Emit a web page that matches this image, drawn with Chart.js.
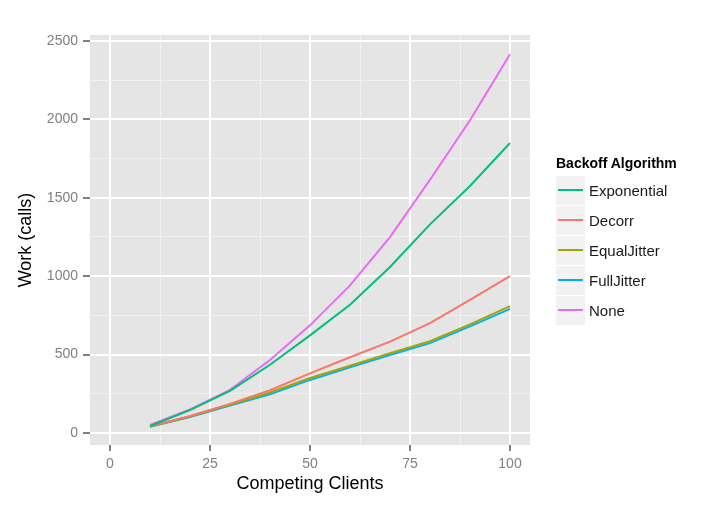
<!DOCTYPE html>
<html>
<head>
<meta charset="utf-8">
<script src="https://cdn.jsdelivr.net/npm/chart.js@4.4.1/dist/chart.umd.min.js"></script>
<style>
  html, body { margin: 0; padding: 0; background: #fff; }
  #wrap { position: relative; width: 721px; height: 510px; font-family: "Liberation Sans", Arial, sans-serif; }
  #c { position: absolute; left: 0; top: 0; }
  #legend { position: absolute; left: 556px; top: 152px; }
  #legend .title { font-weight: bold; font-size: 14px; color: #000; height: 23px; line-height: 22px; white-space: nowrap; }
  #legend .row { display: flex; align-items: center; height: 30px; }
  #legend .key { width: 29px; height: 29px; background: #f2f2f2; position: relative; margin-right: 4px; }
  #legend .key span { position: absolute; left: 2px; right: 2px; top: 13px; height: 2px; }
  #legend .lab { font-size: 15px; color: #1a1a1a; white-space: nowrap; }
</style>
</head>
<body>
<div id="wrap">
  <canvas id="c" width="721" height="510"></canvas>
  <div id="legend"></div>
</div>
<script>
const clients = [10, 20, 30, 40, 50, 60, 70, 80, 90, 100];
const seriesNames = ["Exponential", "Decorr", "EqualJitter", "FullJitter", "None"];
const exponential = [44, 145, 268, 435, 622, 818, 1058, 1330, 1575, 1849];
const decorr      = [42, 108, 185, 272, 380, 483, 582, 700, 848, 1000];
const equalJitter = [41, 105, 180, 258, 350, 428, 508, 585, 692, 809];
const fullJitter  = [40, 102, 175, 247, 338, 418, 497, 573, 680, 791];
const none        = [51, 150, 275, 465, 686, 941, 1249, 1615, 1994, 2415];
const xTickValues = [0, 25, 50, 75, 100];
const yTickValues = [0, 500, 1000, 1500, 2000, 2500];
const colors = ["#00BF7D", "#F8766D", "#A3A500", "#00B0F6", "#E76BF3"];

const allSeries = [exponential, decorr, equalJitter, fullJitter, none];

const datasets = allSeries.map((vals, i) => ({
  label: seriesNames[i],
  data: clients.map((c, j) => ({ x: c, y: vals[j] })),
  borderColor: colors[i],
  backgroundColor: colors[i],
  borderWidth: 2,
  pointRadius: 0,
  tension: 0,
  fill: false
}));

function withMinor(major) {
  const out = [];
  for (let i = 0; i < major.length; i++) {
    out.push({ value: major[i], major: true });
    if (i < major.length - 1) out.push({ value: (major[i] + major[i + 1]) / 2, major: false });
  }
  return out;
}

const panelBg = {
  id: 'panelBg',
  beforeDraw(chart) {
    const { ctx, chartArea: a } = chart;
    ctx.save();
    ctx.fillStyle = '#e5e5e5';
    ctx.fillRect(a.left, a.top, a.right - a.left, a.bottom - a.top);
    ctx.restore();
  }
};

const isMajor = (ctx) => ctx.tick && ctx.tick.major;

new Chart(document.getElementById('c'), {
  type: 'line',
  data: { datasets },
  plugins: [panelBg],
  options: {
    responsive: false,
    animation: false,
    layout: { padding: { left: 0, top: 35, right: 191, bottom: 0 } },
    plugins: { legend: { display: false }, tooltip: { enabled: false } },
    scales: {
      x: {
        type: 'linear',
        min: -5,
        max: 105,
        afterBuildTicks: (s) => { s.ticks = withMinor(xTickValues); },
        afterFit: (s) => { s.height = 65; },
        border: { display: false },
        grid: {
          color: (c) => isMajor(c) ? '#ffffff' : '#f2f2f2',
          lineWidth: (c) => isMajor(c) ? 2 : 1,
          tickColor: (c) => isMajor(c) ? '#7f7f7f' : 'rgba(0,0,0,0)',
          tickLength: 6,
          drawTicks: true
        },
        ticks: {
          autoSkip: false,
          maxRotation: 0,
          padding: 5,
          color: '#7f7f7f',
          font: { family: '"Liberation Sans", Arial, sans-serif', size: 14 },
          callback: (v, i, ticks) => ticks[i].major ? String(v) : ''
        },
        title: {
          display: true,
          text: 'Competing Clients',
          color: '#000',
          font: { family: '"Liberation Sans", Arial, sans-serif', size: 18 },
          padding: { top: 0, bottom: 15 }
        }
      },
      y: {
        type: 'linear',
        min: -77,
        max: 2538,
        afterBuildTicks: (s) => { s.ticks = withMinor(yTickValues); },
        afterFit: (s) => { s.width = 90; },
        border: { display: false },
        grid: {
          color: (c) => isMajor(c) ? '#ffffff' : '#f2f2f2',
          lineWidth: (c) => isMajor(c) ? 2 : 1,
          tickColor: (c) => isMajor(c) ? '#7f7f7f' : 'rgba(0,0,0,0)',
          tickLength: 7,
          drawTicks: true
        },
        ticks: {
          autoSkip: false,
          padding: 5,
          color: '#7f7f7f',
          font: { family: '"Liberation Sans", Arial, sans-serif', size: 14 },
          callback: (v, i, ticks) => ticks[i].major ? String(v) : ''
        },
        title: {
          display: true,
          text: 'Work (calls)',
          color: '#000',
          font: { family: '"Liberation Sans", Arial, sans-serif', size: 18 },
          padding: { top: 15, bottom: 0 }
        }
      }
    }
  }
});

const legend = document.getElementById('legend');
const t = document.createElement('div');
t.className = 'title';
t.textContent = 'Backoff Algorithm';
legend.appendChild(t);
seriesNames.forEach((n, i) => {
  const row = document.createElement('div');
  row.className = 'row';
  const key = document.createElement('div');
  key.className = 'key';
  const ln = document.createElement('span');
  ln.style.background = colors[i];
  key.appendChild(ln);
  const lab = document.createElement('div');
  lab.className = 'lab';
  lab.textContent = n;
  row.appendChild(key);
  row.appendChild(lab);
  legend.appendChild(row);
});
</script>
</body>
</html>
